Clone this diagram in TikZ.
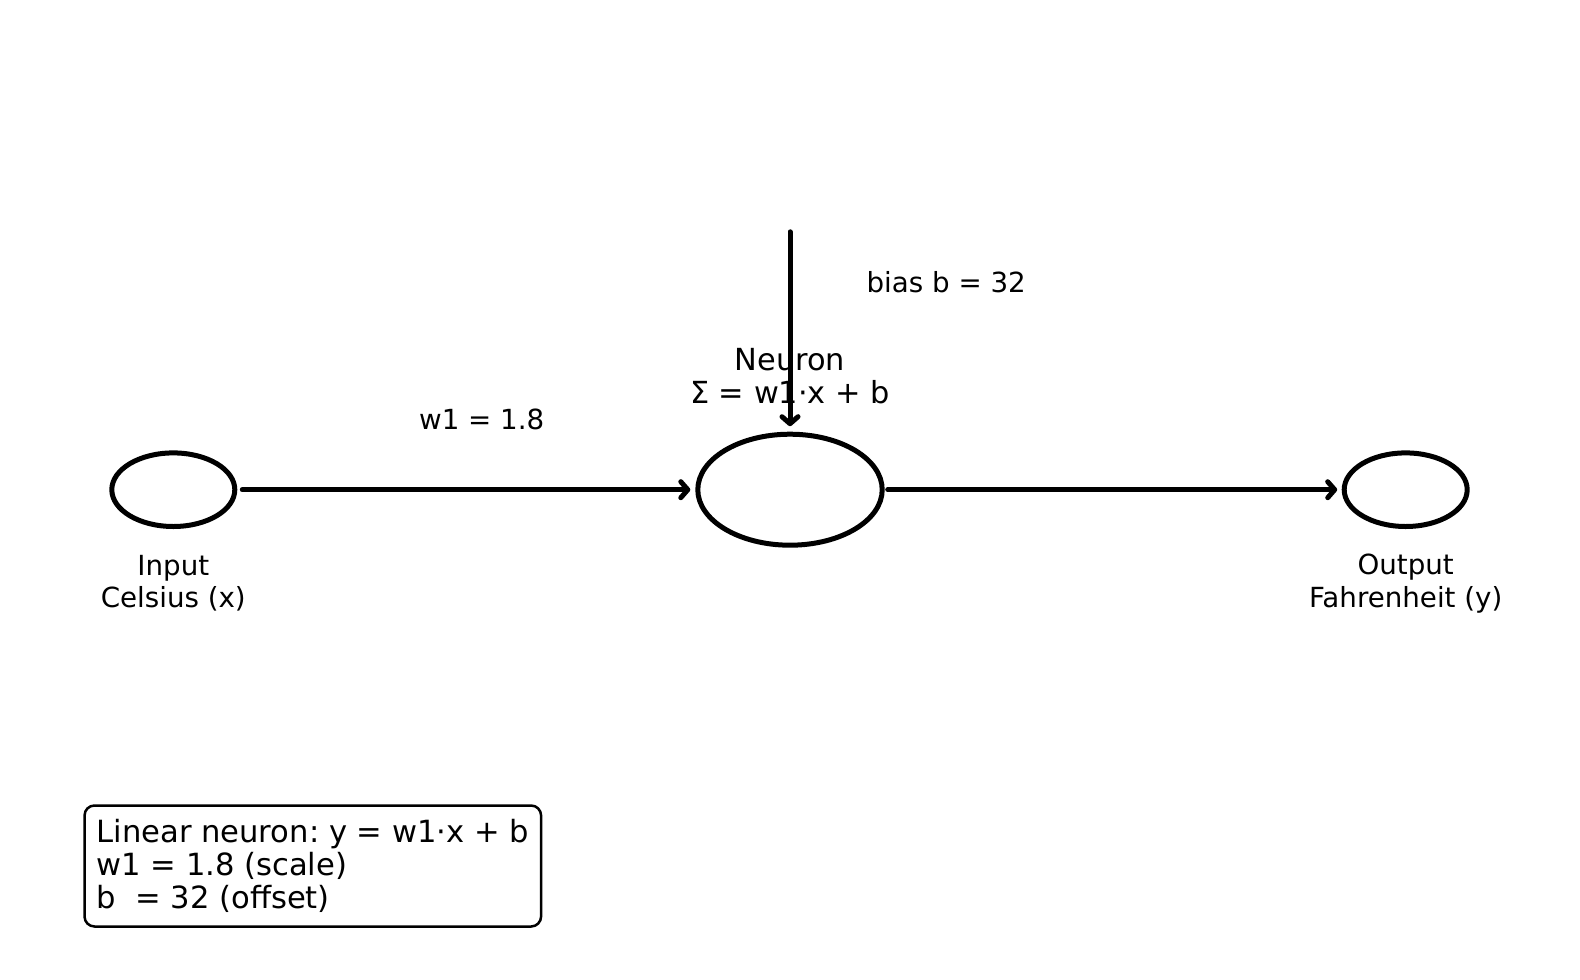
\documentclass[tikz,border=0pt]{standalone}
\usepackage{fontspec}
\setmainfont{DejaVu Sans}
\usetikzlibrary{shapes.geometric,arrows.meta}
\frenchspacing
\begin{document}
\begin{tikzpicture}[x=1pt,y=-1pt,
  unit/.style={ellipse,draw,line width=5pt,inner sep=0pt},
  conn/.style={line width=5pt,line cap=round,-{Straight Barb[length=7pt,width=16pt,line cap=round,line join=round]}},
  lbl/.style={font=\fontsize{27.7}{32.2}\selectfont,align=center,inner sep=0pt},
  big/.style={font=\fontsize{30.4}{33.3}\selectfont,align=center,inner sep=0pt},
  ]
\useasboundingbox (0,0) rectangle (1580,980);
\node[unit,minimum width=123,minimum height=73.6] (in) at (173.3,489.7) {};
\node[unit,minimum width=184.4,minimum height=111] (neu) at (790,489.7) {};
\node[unit,minimum width=123,minimum height=73.6] (out) at (1405.7,489.7) {};
\coordinate (bstart) at (790,231.8);
\draw[conn,shorten <=5pt,shorten >=5pt] (in.east) -- (neu.west);
\draw[conn,shorten <=3pt,shorten >=4.5pt] (neu.east) -- (out.west);
\draw[conn,shorten >=5.5pt] (bstart) -- (neu.north);
\node[lbl] (inl) at (173.3,583.5) {Input\\Celsius (x)};
\node[lbl] (outl) at (1405.7,583.5) {Output\\Fahrenheit (y)};
\node[lbl] (wl) at (481.7,419.2) {w1 = 1.8};
\node[lbl] (bl) at (946.2,282.2) {bias b = 32};
\node[big] (nl) at (790,376.4) {Neuron\\Σ = w1·x + b};
\node[draw,line width=2.5pt,rounded corners=10pt,minimum height=121,minimum width=455,inner xsep=12,inner ysep=0pt,align=left,font=\fontsize{30.6}{33.3}\selectfont] (box) at (312.8,866) {Linear neuron: y = w1·x + b\\w1 = 1.8 (scale)\\b\ \ = 32 (offset)};
\end{tikzpicture}
\end{document}
